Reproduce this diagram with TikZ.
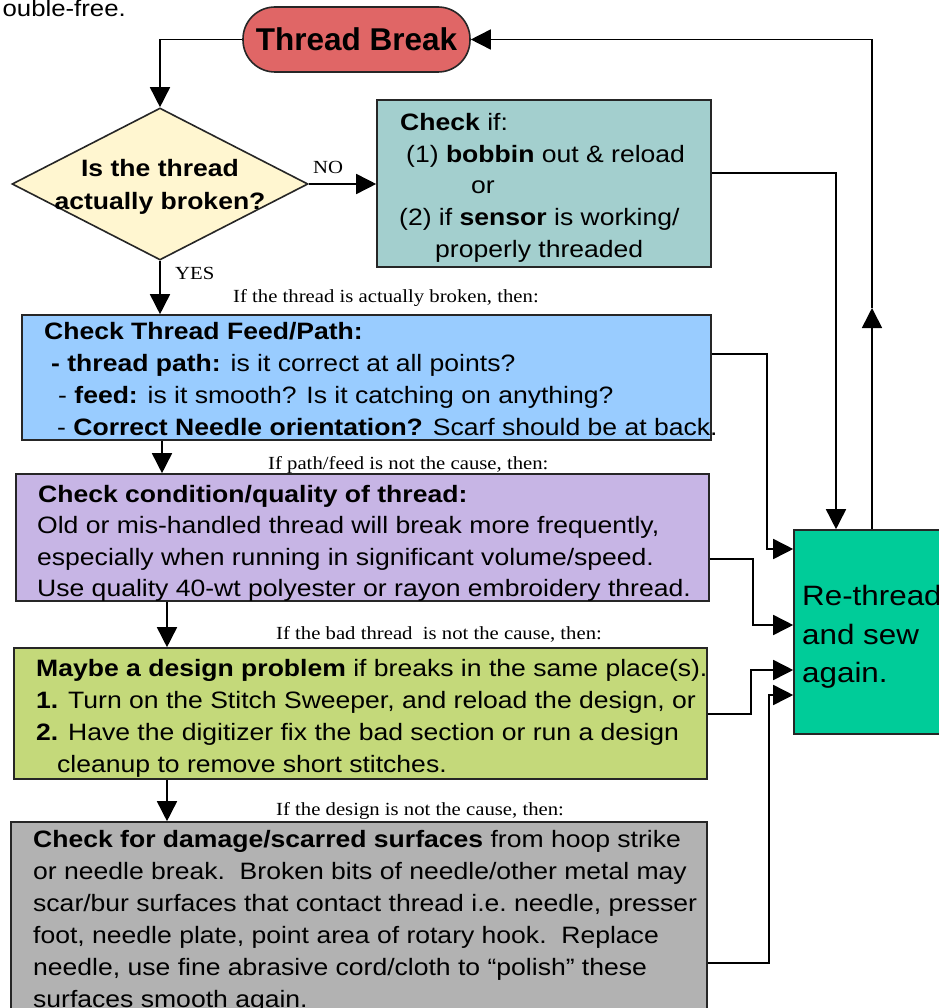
\documentclass[tikz,border=0pt]{standalone}
\usepackage{fontspec}
\setmainfont{Liberation Sans}[FakeStretch=1.12]
\newfontfamily\labelfont{Liberation Serif}[FakeStretch=1.12]
\newfontfamily\tbfont{Liberation Sans}
\usetikzlibrary{arrows.meta,shapes.geometric}
\definecolor{tbred}{RGB}{224,102,102}
\definecolor{diay}{RGB}{255,246,208}
\definecolor{tealbox}{RGB}{163,207,206}
\definecolor{bluebox}{RGB}{153,204,255}
\definecolor{purpbox}{RGB}{199,181,229}
\definecolor{greenbox}{RGB}{196,217,122}
\definecolor{graybox}{RGB}{178,178,178}
\definecolor{rethr}{RGB}{0,204,153}
\tikzset{
  box/.style={draw=black!85, line width=1.6pt, rectangle, inner sep=0pt},
  conn/.style={draw=black, line width=1.6pt},
  arr/.style={-{Triangle[length=20pt,width=20pt]}},
  ln/.style={anchor=base west, inner sep=0pt, font=\fontsize{23.7}{32}\selectfont},
  rl/.style={anchor=base west, inner sep=0pt, font=\fontsize{28}{38}\selectfont},
  lab/.style={anchor=base west, inner sep=0pt, font=\labelfont\fontsize{18.5}{22}\selectfont},
}
\begin{document}
\begin{tikzpicture}[x=1pt,y=-1pt]
\useasboundingbox (0,0) rectangle (938,1008);
\fill[white] (0,0) rectangle (938,1008);

% top cut text
\node[anchor=base east, inner sep=0pt, font=\fontsize{23}{28}\selectfont] (top) at (126,17) {ouble-free.};

% boxes
\node[draw=black!85, line width=1.6pt, fill=tbred, rounded corners=32pt, minimum width=227pt, minimum height=65pt, inner sep=0pt, font=\tbfont\bfseries\fontsize{31.5}{36}\selectfont] (tb) at (356.5,39.5) {Thread Break};
\node[box, diamond, fill=diay, minimum width=296pt, minimum height=152pt] (dia) at (160,184) {};
\node[box, fill=tealbox, minimum width=334pt, minimum height=167pt] (teal) at (544,183.5) {};
\node[box, fill=bluebox, minimum width=689pt, minimum height=125pt] (blue) at (366.5,377.5) {};
\node[box, fill=purpbox, minimum width=693pt, minimum height=127pt] (purp) at (362.5,537.5) {};
\node[box, fill=greenbox, minimum width=693pt, minimum height=131pt] (green) at (360.5,713.5) {};
\node[box, fill=graybox, minimum width=696pt, minimum height=198pt] (gray) at (359,921) {};
\node[box, fill=rethr, minimum width=176pt, minimum height=204pt] (re) at (882,632) {};

% connectors
\draw[conn,arr] (tb.west) -| (dia.north);
\draw[conn,arr] (dia.east) -- (teal.west |- dia.east);
\draw[conn,arr] (teal.east |- 0,173) -| (re.north -| 836,0);
\draw[conn,arr] (dia.south) -- (blue.north -| dia.south);
\draw[conn,arr] (blue.east |- 0,354) -| (767,549) -- (re.west |- 0,549);
\draw[conn,arr] (blue.south -| 162,0) -- (purp.north -| 162,0);
\draw[conn,arr] (purp.east |- 0,559) -| (753,625) -- (re.west |- 0,625);
\draw[conn,arr] (purp.south -| 167,0) -- (green.north -| 167,0);
\draw[conn,arr] (green.east |- 0,714) -| (751,670) -- (re.west |- 0,670);
\draw[conn,arr] (green.south -| 167,0) -- (gray.north -| 167,0);
\draw[conn,arr] (gray.east |- 0,963) -| (769,695) -- (re.west |- 0,695);
\coordinate (up) at (872,308);
\draw[conn,arr] (re.north -| up) -- (up);
\draw[conn,arr] (up) |- (tb.east);

% labels
\node[lab] (no) at (313,174) {NO};
\node[lab] (yes) at (175,279) {YES};
\node[lab] (l1) at (233,302) {If the thread is actually broken, then:};
\node[lab] (l2) at (268,469) {If path/feed is not the cause, then:};
\node[lab] (l3) at (276,639) {If the bad thread\ \ is not the cause, then:};
\node[lab] (l4) at (276,815) {If the design is not the cause, then:};

% diamond text
\node[anchor=base, inner sep=0pt, font=\bfseries\fontsize{23.7}{32}\selectfont] (d1) at (160,177) {Is the thread};
\node[anchor=base, inner sep=0pt, font=\bfseries\fontsize{23.7}{32}\selectfont] (d2) at (160,210) {actually broken?};

% teal text
\node[ln] (t1) at (400,131) {\textbf{Check} if:};
\node[ln] (t2) at (406,162.5) {(1) \textbf{bobbin} out \& reload};
\node[ln] (t3) at (471,194) {or};
\node[ln] (t4) at (399,225.5) {(2) if \textbf{sensor} is working/};
\node[ln] (t5) at (435,257) {properly threaded};

% blue text
\node[ln] (b1) at (44,339) {\textbf{Check Thread Feed/Path:}};
\node[ln] (b2) at (51,371) {\textbf{- thread path:} is it correct at all points?};
\node[ln] (b3) at (58,403) {- \textbf{feed:} is it smooth? Is it catching on anything?};
\node[ln] (b4) at (57,435) {- \textbf{Correct Needle orientation?} Scarf should be at back.};

% purple text
\node[ln] (p1) at (38,502) {\textbf{Check condition/quality of thread:}};
\node[ln] (p2) at (37,533) {Old or mis-handled thread will break more frequently,};
\node[ln] (p3) at (37,565) {especially when running in significant volume/speed.};
\node[ln] (p4) at (37,596) {Use quality 40-wt polyester or rayon embroidery thread.};

% green text
\node[ln] (g1) at (36,676) {\textbf{Maybe a design problem} if breaks in the same place(s).};
\node[ln] (g2) at (36,708) {\textbf{1.} Turn on the Stitch Sweeper, and reload the design, or};
\node[ln] (g3) at (36,740) {\textbf{2.} Have the digitizer fix the bad section or run a design};
\node[ln] (g4) at (57,772) {cleanup to remove short stitches.};

% gray text
\node[ln] (s1) at (33,847) {\textbf{Check for damage/scarred surfaces} from hoop strike};
\node[ln] (s2) at (33,879) {or needle break.\ \ Broken bits of needle/other metal may};
\node[ln] (s3) at (33,911) {scar/bur surfaces that contact thread i.e.\ needle, presser};
\node[ln] (s4) at (33,943) {foot, needle plate, point area of rotary hook.\ \ Replace};
\node[ln] (s5) at (33,975) {needle, use fine abrasive cord/cloth to “polish” these};
\node[ln] (s6) at (33,1007) {surfaces smooth again.};

% rethread text
\node[rl] (r1) at (802,605) {Re-thread};
\node[rl] (r2) at (802,644) {and sew};
\node[rl] (r3) at (802,682) {again.};
\end{tikzpicture}
\end{document}
